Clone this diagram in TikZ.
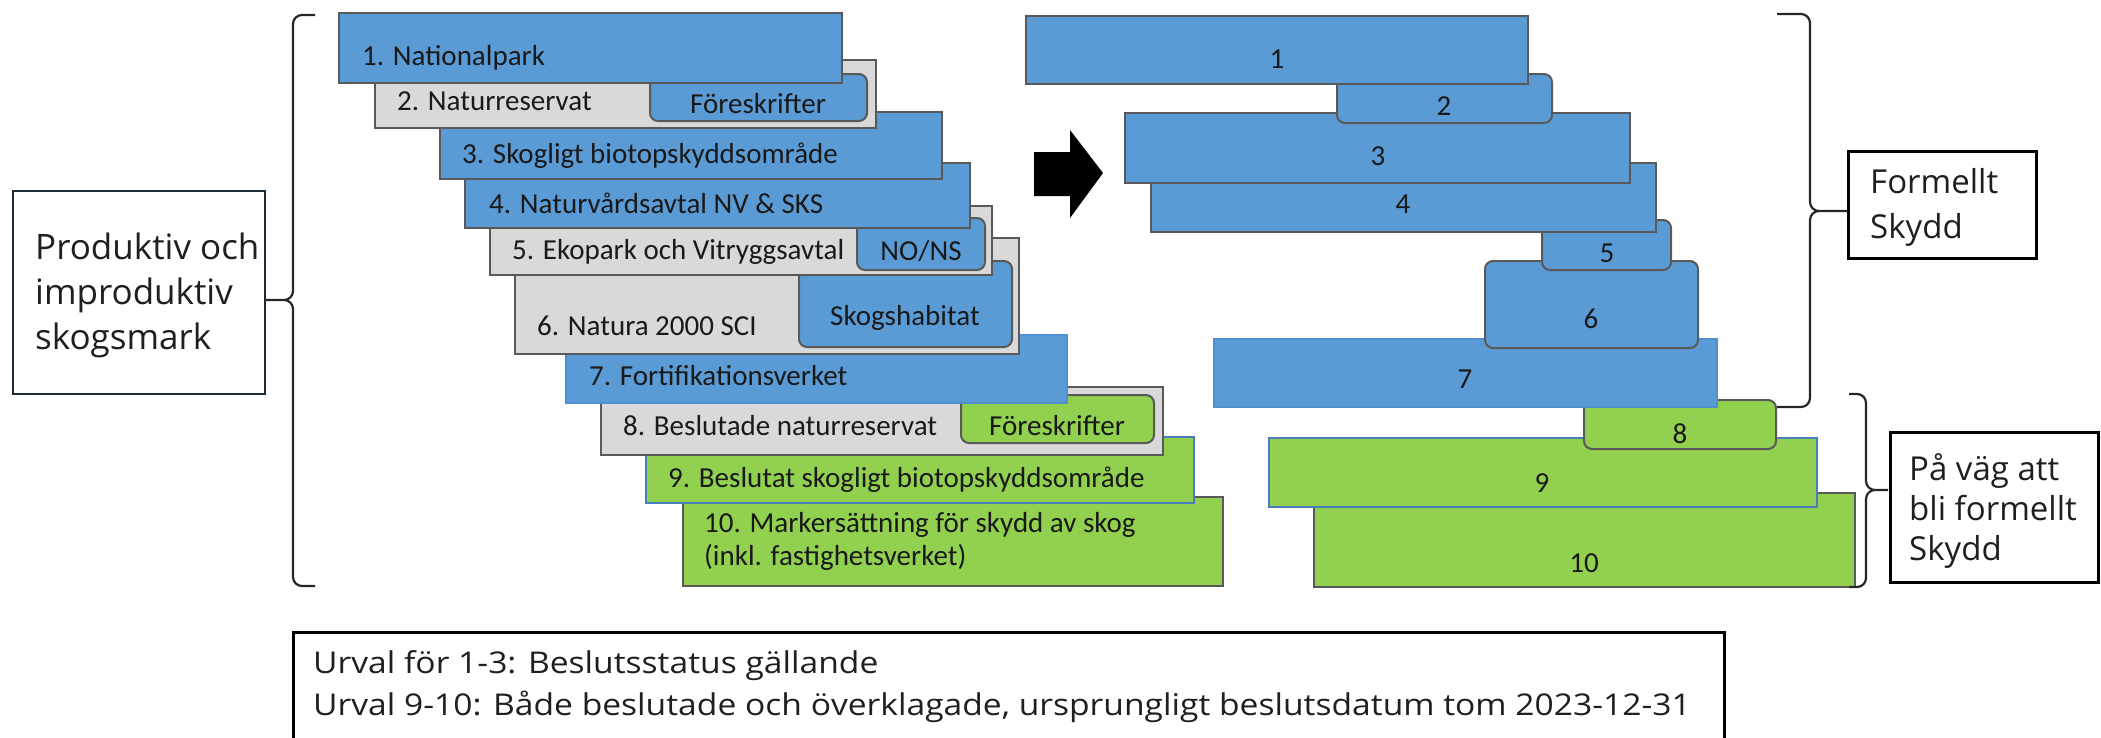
\documentclass[tikz,border=0pt]{standalone}
\usepackage{fontspec}
\setmainfont{Carlito}
\newfontfamily\opensans{Open Sans}
\newfontfamily\widesans[FakeStretch=1.12]{Open Sans}
\usepackage{tikz}
\usetikzlibrary{positioning}

\definecolor{officeblue}{HTML}{5B9BD5}
\definecolor{boxgray}{HTML}{D9D9D9}
\definecolor{leafgreen}{HTML}{92D050}
\definecolor{edgegray}{HTML}{595959}
\definecolor{navy}{HTML}{1C2B3A}
\definecolor{bluebrd}{HTML}{4A7EBB}
\definecolor{blueedge}{HTML}{4F8FD0}

\tikzset{
  sheet/.style={draw=edgegray, line width=2pt, inner sep=0pt, outer sep=0pt, anchor=north west},
  bluesheet/.style={sheet, fill=officeblue},
  graysheet/.style={sheet, fill=boxgray},
  greensheet/.style={sheet, fill=leafgreen},
  roundtab/.style={rounded corners=8pt},
  lbl/.style={anchor=base west, inner sep=0pt, text=black!90, font=\fontsize{29}{33}\selectfont},
  tablbl/.style={lbl, anchor=base},
  numlbl/.style={lbl, anchor=base},
  brk/.style={draw=black!85, line width=2.2pt, rounded corners=9pt},
  infobox/.style={draw=black, line width=3pt, inner sep=0pt, outer sep=0pt, anchor=north west},
  infotext/.style={anchor=base west, inner sep=0pt, align=left, text=black!88}
}

\begin{document}
\begin{tikzpicture}[x=1pt,y=-1pt]
\useasboundingbox (0,0) rectangle (2101,737);

% left stack, lowest sheet first
\node[greensheet, minimum width=540pt, minimum height=89pt] (mark) at (683,497) {};
\node[greensheet, draw=bluebrd, minimum width=548pt, minimum height=66pt] (bes) at (646,437) {};
\node[graysheet, minimum width=562pt, minimum height=68pt] (brs) at (601,387) {};
\node[greensheet, roundtab, minimum width=193pt, minimum height=48pt] (fgreen) at (961,395) {};
\node[bluesheet, draw=blueedge, minimum width=501pt, minimum height=68pt] (fort) at (566,335) {};
\node[graysheet, minimum width=504pt, minimum height=116pt] (natura) at (515,238) {};
\node[bluesheet, roundtab, minimum width=213pt, minimum height=86pt] (habitat) at (799,261) {};
\node[graysheet, minimum width=502pt, minimum height=69pt] (eko) at (490,206) {};
\node[bluesheet, roundtab, minimum width=128pt, minimum height=52pt] (nons) at (857,218) {};
\node[bluesheet, minimum width=505pt, minimum height=65pt] (nva) at (465,163) {};
\node[bluesheet, minimum width=502pt, minimum height=67pt] (bio) at (440,112) {};
\node[graysheet, minimum width=501pt, minimum height=68pt] (nres) at (375,60) {};
\node[bluesheet, roundtab, minimum width=217pt, minimum height=47pt] (fblue) at (650,74) {};
\node[bluesheet, minimum width=503pt, minimum height=70pt] (npark) at (339,13) {};

\node[lbl] (tnpark) at (362,65) {1. Nationalpark};
\node[lbl] (tnres) at (397,110) {2. Naturreservat};
\node[tablbl] (tfblue) at (758,113) {Föreskrifter};
\node[lbl] (tbio) at (462,163) {3. Skogligt biotopskyddsområde};
\node[lbl] (tnva) at (489,213) {4. Naturvårdsavtal NV \& SKS};
\node[lbl] (teko) at (512,259) {5. Ekopark och Vitryggsavtal};
\node[tablbl] (tnons) at (921,260) {NO/NS};
\node[lbl] (tnatura) at (537,335) {6. Natura 2000 SCI};
\node[tablbl] (thabitat) at (905,325) {Skogshabitat};
\node[lbl] (tfort) at (589,385) {7. Fortifikationsverket};
\node[lbl] (tbrs) at (623,435) {8. Beslutade naturreservat};
\node[tablbl] (tfgreen) at (1057,435) {Föreskrifter};
\node[lbl] (tbes) at (668,487) {9. Beslutat skogligt biotopskyddsområde};
\node[lbl, align=left] (tmark) at (704,565) {10. Markersättning för skydd av skog\\(inkl. fastighetsverket)};

% block arrow
\fill[black] (1034,152) -- (1070,152) -- (1070,130) -- (1103,173) -- (1070,218) -- (1070,196) -- (1034,196) -- cycle;

% right stack
\node[greensheet, minimum width=541pt, minimum height=94pt] (r10) at (1314,493) {};
\node[greensheet, draw=bluebrd, minimum width=548pt, minimum height=69pt] (r9) at (1269,438) {};
\node[greensheet, roundtab, minimum width=192pt, minimum height=49pt] (r8) at (1584,400) {};
\node[bluesheet, draw=blueedge, minimum width=503pt, minimum height=68pt] (r7) at (1214,339) {};
\node[bluesheet, roundtab, minimum width=213pt, minimum height=87pt] (r6) at (1485,261) {};
\node[bluesheet, roundtab, minimum width=129pt, minimum height=50pt] (r5) at (1542,220) {};
\node[bluesheet, minimum width=505pt, minimum height=69pt] (r4) at (1151,163) {};
\node[bluesheet, minimum width=505pt, minimum height=70pt] (r3) at (1125,113) {};
\node[bluesheet, roundtab, minimum width=215pt, minimum height=49pt] (r2) at (1337,74) {};
\node[bluesheet, minimum width=502pt, minimum height=68pt] (r1) at (1026,16) {};

\node[numlbl] (n1) at (1277,68) {1};
\node[numlbl] (n2) at (1444,115) {2};
\node[numlbl] (n3) at (1378,165) {3};
\node[numlbl] (n4) at (1403,213) {4};
\node[numlbl] (n5) at (1607,262) {5};
\node[numlbl] (n6) at (1591,328) {6};
\node[numlbl] (n7) at (1465,388) {7};
\node[numlbl] (n8) at (1680,443) {8};
\node[numlbl] (n9) at (1542,492) {9};
\node[numlbl] (n10) at (1584,572) {10};

% braces
\draw[brk] (315,15) -- (293,15) -- (293,300) -- (266,300) (266,300) -- (293,300) -- (293,586) -- (315,586);
\draw[brk] (1777,14) -- (1810,14) -- (1810,211) -- (1847,211) (1847,211) -- (1810,211) -- (1810,407) -- (1777,407);
\draw[brk] (1849,394) -- (1866,394) -- (1866,490) -- (1888,490) (1888,490) -- (1866,490) -- (1866,587) -- (1849,587);

% text boxes
\node[infobox, draw=navy, line width=2.5pt, minimum width=252pt, minimum height=203pt] (prod) at (13,191) {};
\node[infotext, font=\opensans\fontsize{35}{45}\selectfont] (tprod) at (35,349) {Produktiv och\\improduktiv\\skogsmark};
\node[infobox, minimum width=188pt, minimum height=107pt] (formellt) at (1848,151) {};
\node[infotext, font=\opensans\fontsize{33}{45}\selectfont] (tformellt) at (1870,238) {Formellt\\Skydd};
\node[infobox, minimum width=208pt, minimum height=150pt] (pavag) at (1890,432) {};
\node[infotext, font=\opensans\fontsize{33}{40}\selectfont] (tpavag) at (1909,560) {På väg att\\bli formellt\\Skydd};
\node[infobox, minimum width=1431pt, minimum height=140pt] (urval) at (293,632) {};
\node[infotext, font=\widesans\fontsize{30}{42}\selectfont] (turval) at (313,715) {Urval för 1-3: Beslutsstatus gällande\\Urval 9-10: Både beslutade och överklagade, ursprungligt beslutsdatum tom 2023-12-31};
\end{tikzpicture}
\end{document}
